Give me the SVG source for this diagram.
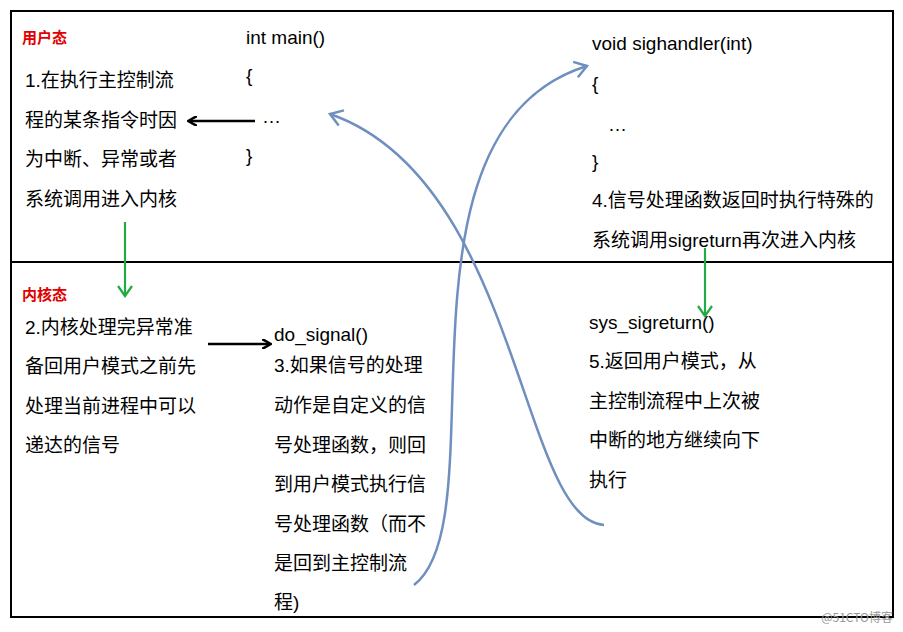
<svg xmlns="http://www.w3.org/2000/svg" width="903" height="632" viewBox="0 0 903 632">
<style>
.t{font-family:"Liberation Sans","Noto Sans CJK SC",sans-serif;font-size:19px;fill:#000}
.r{font-family:"Noto Sans CJK SC",sans-serif;font-size:15px;font-weight:bold;fill:#e00000}
.b{stroke:#6f8fbf;stroke-width:2.5;fill:none}
</style>
<defs>
<marker id="ak" markerWidth="10" markerHeight="10" refX="8" refY="5" orient="auto" markerUnits="userSpaceOnUse"><path d="M0,0 L9,5 L0,10" fill="none" stroke="#000" stroke-width="2.5"/></marker>
<marker id="ag" markerWidth="14" markerHeight="16" refX="11" refY="8" orient="auto" markerUnits="userSpaceOnUse"><path d="M1,1 L11,8 L1,15" fill="none" stroke="#22aa44" stroke-width="2.2"/></marker>
<marker id="ab" markerWidth="20" markerHeight="20" refX="14" refY="10" orient="auto" markerUnits="userSpaceOnUse"><path d="M2,2 L14,10 L2,18" fill="none" stroke="#6f8fbf" stroke-width="2.5"/></marker>
</defs>
<rect x="0" y="0" width="903" height="632" fill="#fff"/>
<rect x="11" y="11" width="882" height="606" fill="none" stroke="#000" stroke-width="2"/>
<line x1="11" y1="262" x2="893" y2="262" stroke="#000" stroke-width="2"/>
<g id="user-label"><text class="r" x="22" y="43">用户态</text></g>
<g id="kernel-label"><text class="r" x="22" y="300">内核态</text></g>
<g id="n1"><text class="t"><tspan x="25" y="87">1.在执行主控制流</tspan><tspan x="25" y="127">程的某条指令时因</tspan><tspan x="25" y="166">为中断、异常或者</tspan><tspan x="25" y="206">系统调用进入内核</tspan></text></g>
<g id="main"><text class="t"><tspan x="246" y="44">int main()</tspan><tspan x="246" y="82">{</tspan><tspan x="262" y="123">…</tspan><tspan x="246" y="162">}</tspan></text></g>
<g id="handler"><text class="t"><tspan x="592" y="50">void sighandler(int)</tspan><tspan x="592" y="90">{</tspan><tspan x="608" y="131">…</tspan><tspan x="592" y="168">}</tspan><tspan x="592" y="207">4.信号处理函数返回时执行特殊的</tspan><tspan x="592" y="247">系统调用sigreturn再次进入内核</tspan></text></g>
<g id="n2"><text class="t"><tspan x="25" y="334">2.内核处理完异常准</tspan><tspan x="25" y="373">备回用户模式之前先</tspan><tspan x="25" y="413">处理当前进程中可以</tspan><tspan x="25" y="452">递达的信号</tspan></text></g>
<g id="n3"><text class="t"><tspan x="274" y="341">do_signal()</tspan><tspan x="274" y="372">3.如果信号的处理</tspan><tspan x="274" y="412">动作是自定义的信</tspan><tspan x="274" y="452">号处理函数，则回</tspan><tspan x="274" y="491">到用户模式执行信</tspan><tspan x="274" y="531">号处理函数（而不</tspan><tspan x="274" y="570">是回到主控制流</tspan><tspan x="274" y="609">程)</tspan></text></g>
<g id="n5"><text class="t"><tspan x="589" y="329">sys_sigreturn()</tspan><tspan x="589" y="368">5.返回用户模式，从</tspan><tspan x="589" y="408">主控制流程中上次被</tspan><tspan x="589" y="447">中断的地方继续向下</tspan><tspan x="589" y="487">执行</tspan></text></g>
<g id="connectors">
<line x1="255" y1="121" x2="189" y2="121" stroke="#000" stroke-width="2.5" marker-end="url(#ak)"/>
<line x1="208" y1="344" x2="270" y2="344" stroke="#000" stroke-width="2.5" marker-end="url(#ak)"/>
<line x1="125" y1="222" x2="125" y2="296" stroke="#22aa44" stroke-width="2.2" marker-end="url(#ag)"/>
<line x1="705" y1="248" x2="705" y2="316" stroke="#22aa44" stroke-width="2.2" marker-end="url(#ag)"/>
<path class="b" d="M604,525 C520,520 520,180 330,114" marker-end="url(#ab)"/>
<path class="b" d="M414,585 C500,520 380,130 587,66" marker-end="url(#ab)"/>
</g>
<text x="893" y="622" text-anchor="end" font-family="Noto Sans CJK SC,sans-serif" font-size="12" fill="#999">@51CTO博客</text>
</svg>
